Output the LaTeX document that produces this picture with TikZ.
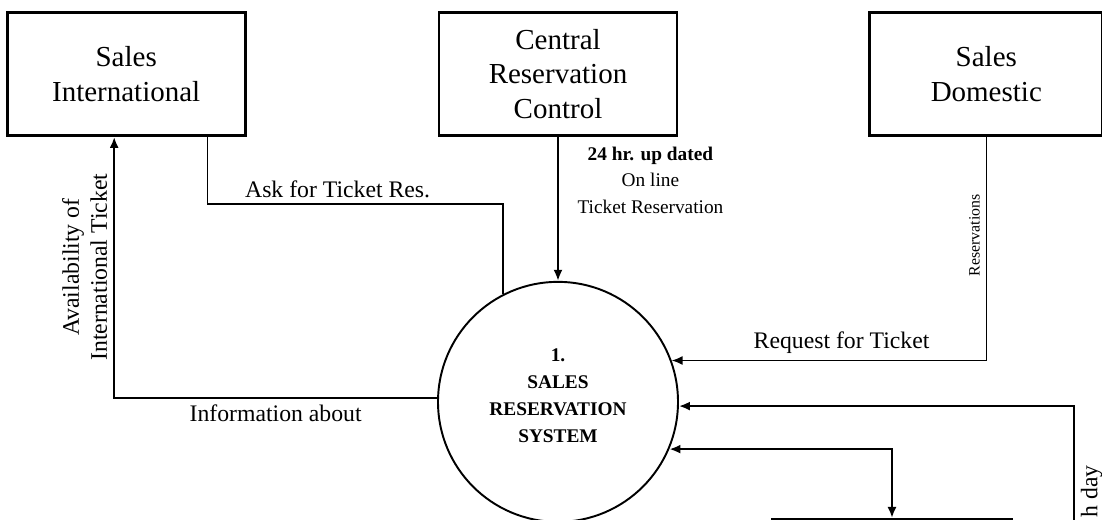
\documentclass[tikz,border=0pt]{standalone}
\usepackage{fontspec}
\setmainfont{Liberation Serif}
\usetikzlibrary{arrows.meta, positioning}

\begin{document}
\begin{tikzpicture}[
    entity/.style={rectangle, draw, line width=1.6pt, minimum width=4.76cm, minimum height=2.46cm, align=center, font=\fontsize{16.5}{19.5}\selectfont},
    process/.style={circle, draw, line width=1.1pt, minimum size=4.8cm, align=center, font=\bfseries\fontsize{11}{15.4}\selectfont},
    flow/.style={->, line width=1.3pt},
    thinflow/.style={line width=0.8pt},
    lbl/.style={font=\fontsize{13.5}{16}\selectfont},
    >={Latex[length=2.2mm,width=1.8mm]},
    node distance=3.82cm
]
\useasboundingbox (0,0) rectangle (22.04,-10.4);

% External entities
\node[entity] (central) at (11.16,-1.48) {Central\\Reservation\\Control};
\node[entity, left=of central] (intl) {Sales\\International};
\node[entity, right=3.8cm of central, minimum width=4.66cm] (domestic) {Sales\\Domestic};

% Process
\node[process, below=2.88cm of central] (sys) {1.\\SALES\\RESERVATION\\SYSTEM\\[-8pt]\mbox{}};

% Data store (cut off at the bottom)
\node[entity, anchor=north, minimum width=4.8cm] (store) at (17.84,-10.36) {};
\coordinate (feed) at (21.48,-11.2);

% Flows
\draw[thinflow] ([xshift=-0.78cm]intl.south east) -- ++(0,-1.34)
    -| node[lbl, pos=0.22, above] {Ask for Ticket Res.} (sys.117);
\draw[flow] (central) -- node[pos=0.3, right=0.25cm, align=center, font=\fontsize{11}{15}\selectfont]
    {\textbf{24 hr. up dated}\\On line\\Ticket Reservation} (sys);
\draw[thinflow, ->] (domestic) |- node[pos=0.22, rotate=90, anchor=south, font=\fontsize{9}{11}\selectfont] {Reservations}
    node[lbl, pos=0.73, above] {Request for Ticket} (sys.20);
\draw[flow] (sys.178) -| node[lbl, pos=0.25, below] {Information about}
    node[lbl, pos=0.75, rotate=90, anchor=south, align=center] {Availability of\\International Ticket} ([xshift=-0.24cm]intl.south);
\draw[flow] (feed) |- node[lbl, pos=0.33, rotate=90, anchor=north east] {h day} (sys.-2);
\draw[flow, <->] (sys.-23) -| (store);

\end{tikzpicture}
\end{document}
